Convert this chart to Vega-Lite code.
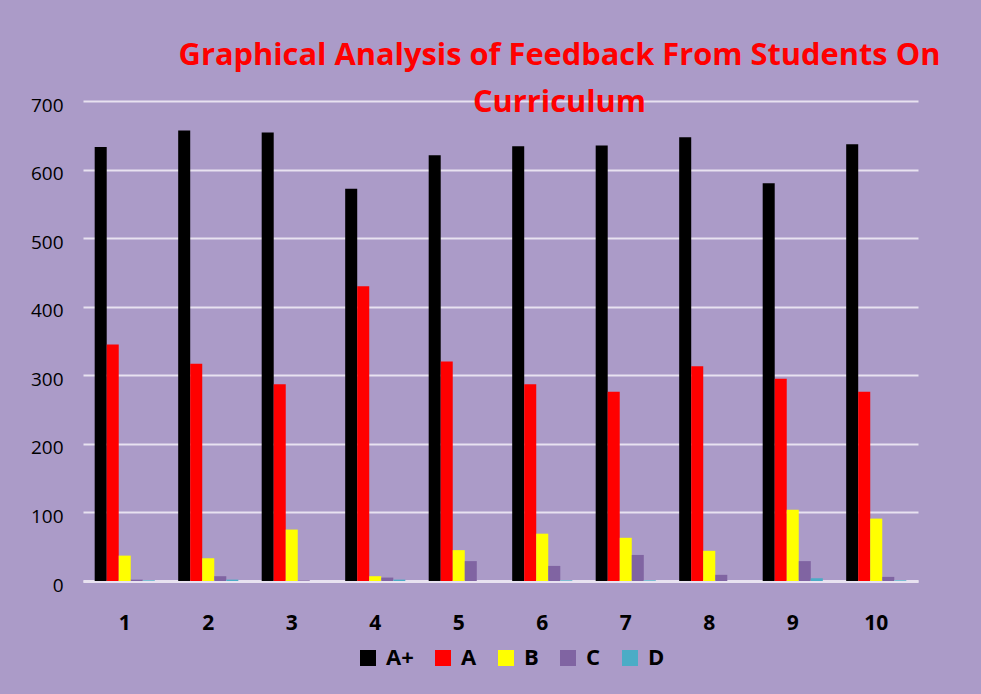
{
  "$schema": "https://vega.github.io/schema/vega-lite/v6.json",
  "width": 835,
  "height": 480,
  "autosize": {"type": "none"},
  "padding": {"left": 83, "top": 101, "right": 63, "bottom": 113},
  "background": "#ab9bc8",
  "title": {
    "text": ["Graphical Analysis of Feedback From Students On", "Curriculum"],
    "font": "Open Sans",
    "fontSize": 30.8,
    "fontWeight": "bold",
    "color": "#ff0000",
    "anchor": "middle",
    "dx": 59,
    "offset": -23,
    "lineHeight": 47
  },
  "data": {
    "values": [
      {"group": "1", "grade": "A+", "count": 633},
      {"group": "1", "grade": "A", "count": 345},
      {"group": "1", "grade": "B", "count": 37},
      {"group": "1", "grade": "C", "count": 2},
      {"group": "1", "grade": "D", "count": 1},
      {"group": "2", "grade": "A+", "count": 657},
      {"group": "2", "grade": "A", "count": 317},
      {"group": "2", "grade": "B", "count": 33},
      {"group": "2", "grade": "C", "count": 7},
      {"group": "2", "grade": "D", "count": 2},
      {"group": "3", "grade": "A+", "count": 654},
      {"group": "3", "grade": "A", "count": 287},
      {"group": "3", "grade": "B", "count": 75},
      {"group": "3", "grade": "C", "count": 1},
      {"group": "3", "grade": "D", "count": 0},
      {"group": "4", "grade": "A+", "count": 572},
      {"group": "4", "grade": "A", "count": 430},
      {"group": "4", "grade": "B", "count": 7},
      {"group": "4", "grade": "C", "count": 5},
      {"group": "4", "grade": "D", "count": 2},
      {"group": "5", "grade": "A+", "count": 621},
      {"group": "5", "grade": "A", "count": 320},
      {"group": "5", "grade": "B", "count": 45},
      {"group": "5", "grade": "C", "count": 29},
      {"group": "5", "grade": "D", "count": 0},
      {"group": "6", "grade": "A+", "count": 634},
      {"group": "6", "grade": "A", "count": 287},
      {"group": "6", "grade": "B", "count": 69},
      {"group": "6", "grade": "C", "count": 22},
      {"group": "6", "grade": "D", "count": 1},
      {"group": "7", "grade": "A+", "count": 635},
      {"group": "7", "grade": "A", "count": 276},
      {"group": "7", "grade": "B", "count": 63},
      {"group": "7", "grade": "C", "count": 38},
      {"group": "7", "grade": "D", "count": 1},
      {"group": "8", "grade": "A+", "count": 647},
      {"group": "8", "grade": "A", "count": 313},
      {"group": "8", "grade": "B", "count": 44},
      {"group": "8", "grade": "C", "count": 9},
      {"group": "8", "grade": "D", "count": 0},
      {"group": "9", "grade": "A+", "count": 580},
      {"group": "9", "grade": "A", "count": 295},
      {"group": "9", "grade": "B", "count": 104},
      {"group": "9", "grade": "C", "count": 29},
      {"group": "9", "grade": "D", "count": 4},
      {"group": "10", "grade": "A+", "count": 637},
      {"group": "10", "grade": "A", "count": 276},
      {"group": "10", "grade": "B", "count": 91},
      {"group": "10", "grade": "C", "count": 6},
      {"group": "10", "grade": "D", "count": 1}
    ]
  },
  "mark": {"type": "bar"},
  "encoding": {
    "x": {
      "field": "group",
      "type": "ordinal",
      "sort": ["1","2","3","4","5","6","7","8","9","10"],
      "scale": {"paddingInner": 0.28, "paddingOuter": 0.14},
      "axis": {
        "title": null,
        "labelAngle": 0,
        "labelFont": "Open Sans",
        "labelFontSize": 21,
        "labelFontWeight": "bold",
        "labelColor": "#000000",
        "labelPadding": 31,
        "ticks": false,
        "domain": true,
        "domainColor": "#e8e2f0",
        "domainWidth": 3
      }
    },
    "xOffset": {"field": "grade", "type": "nominal", "sort": ["A+","A","B","C","D"]},
    "y": {
      "field": "count",
      "type": "quantitative",
      "scale": {"domain": [0, 700]},
      "axis": {
        "title": null,
        "values": [0,100,200,300,400,500,600,700],
        "labelFont": "Open Sans",
        "labelFontSize": 19,
        "labelColor": "#000000",
        "labelPadding": 20,
        "labelOffset": 4,
        "ticks": false,
        "domain": false,
        "grid": true,
        "gridColor": "#e8e2f0",
        "gridWidth": 2
      }
    },
    "color": {
      "field": "grade",
      "type": "nominal",
      "sort": ["A+","A","B","C","D"],
      "scale": {"domain": ["A+","A","B","C","D"], "range": ["#000000","#ff0000","#ffff00","#8064a2","#4bacc6"]},
      "legend": {
        "title": null,
        "orient": "none",
        "legendX": 274,
        "legendY": 546,
        "direction": "horizontal",
        "symbolType": "square",
        "symbolSize": 256,
        "symbolStrokeWidth": 0,
        "symbolOpacity": 1,
        "labelFont": "Open Sans",
        "labelFontSize": 22,
        "labelFontWeight": "bold",
        "labelColor": "#000000",
        "labelOffset": 7,
        "columnPadding": 18
      }
    }
  },
  "config": {
    "view": {"stroke": null}
  }
}
